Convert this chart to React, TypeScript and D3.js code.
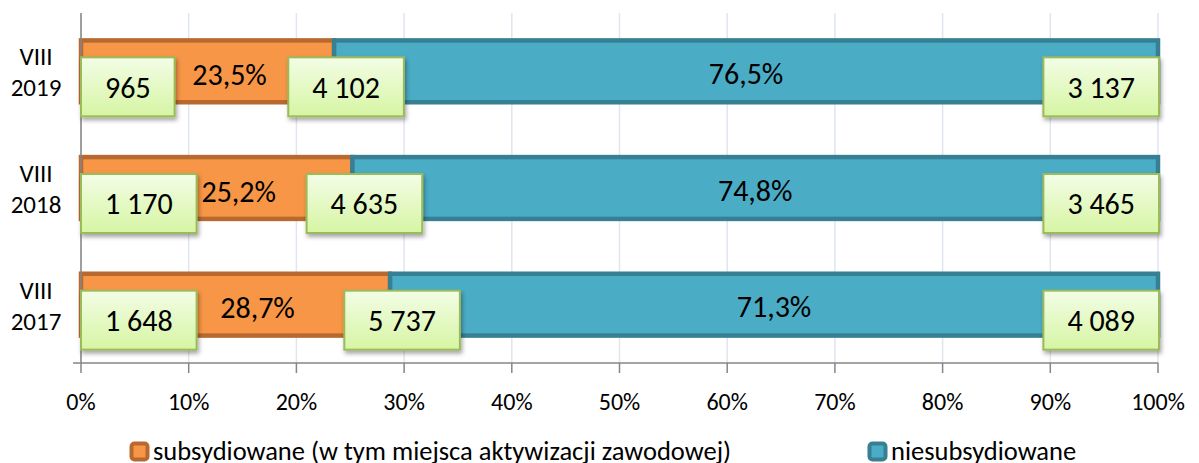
import React from "react"
import * as d3 from "d3"

const categories = ["VIII 2019", "VIII 2018", "VIII 2017"]
const subsidized = [965, 1170, 1648]
const unsubsidized = [3137, 3465, 4089]
const totals = [4102, 4635, 5737]
const subsidizedPct = [23.5, 25.2, 28.7]
const unsubsidizedPct = [76.5, 74.8, 71.3]
const xTicks = [0, 10, 20, 30, 40, 50, 60, 70, 80, 90, 100]
const legendLabels = ["subsydiowane (w tym miejsca aktywizacji zawodowej)", "niesubsydiowane"]

const W = 1199
const H = 463
const FONT = "Calibri, Carlito, Lato, sans-serif"
const LABEL_SIZE = 30

const plLocale = d3.formatLocale({ decimal: ",", thousands: " ", grouping: [3], currency: ["", ""] })
const fmtNum = plLocale.format(",")
const fmtPct = (v: number) => plLocale.format(".1f")(v) + "%"

let ctx: CanvasRenderingContext2D | null = null
function textWidth(s: string, size: number) {
    if (!ctx) ctx = document.createElement("canvas").getContext("2d")
    if (!ctx) return s.length * size * 0.55
    ctx.font = size + "px " + FONT
    return ctx.measureText(s).width
}

function ValueBox({ cx, cy, text, align }: { cx: number, cy: number, text: string, align: "left" | "center" | "right" }) {
    const w = textWidth(text, LABEL_SIZE) + 48
    const h = 59
    let x0 = cx - w / 2
    if (align === "left") x0 = cx
    if (align === "right") x0 = cx - w
    return (
        <g>
            <rect x={x0} y={cy - h / 2} width={w} height={h} fill="url(#boxGrad)"
                stroke="#9bbb59" strokeWidth={2} filter="url(#shadow)" />
            <text x={x0 + w / 2} y={cy} dy="0.36em" textAnchor="middle" fontSize={LABEL_SIZE}>{text}</text>
        </g>
    )
}

export default function App() {
    const x = d3.scaleLinear().domain([0, 100]).range([81, 1158])
    const y = d3.scaleBand().domain(categories).range([13, 363]).paddingInner(0.47).paddingOuter(0.235)
    const bw = y.bandwidth()
    const axisY = 363

    return (
        <svg width={W} height={H} style={{ position: "absolute", left: 0, top: 0 }}
            fontFamily={FONT} fill="#000">
            <defs>
                <linearGradient id="boxGrad" x1="0" y1="0" x2="0" y2="1">
                    <stop offset="0%" stopColor="#f3fde6" />
                    <stop offset="100%" stopColor="#d6f5a3" />
                </linearGradient>
                <filter id="shadow" x="-20%" y="-20%" width="140%" height="150%">
                    <feDropShadow dx="1.5" dy="3" stdDeviation="2" floodColor="#000" floodOpacity="0.35" />
                </filter>
            </defs>

            {/* gridlines */}
            {xTicks.map(t => (
                <line key={"g" + t} x1={x(t)} x2={x(t)} y1={13} y2={axisY} stroke="#dfe6f0" strokeWidth={1.5} />
            ))}

            {/* bars */}
            {categories.map((c, i) => {
                const y0 = y(c) as number
                return (
                    <g key={c}>
                        <rect x={x(0)} y={y0} width={x(subsidizedPct[i]) - x(0)} height={bw}
                            fill="#f79646" stroke="#b7692f" strokeWidth={4.5} />
                        <rect x={x(subsidizedPct[i])} y={y0} width={x(100) - x(subsidizedPct[i])} height={bw}
                            fill="#4bacc6" stroke="#377f92" strokeWidth={4.5} />
                    </g>
                )
            })}

            {/* axes */}
            <line x1={81} x2={81} y1={13} y2={axisY} stroke="#868686" strokeWidth={1.5} />
            <line x1={73} x2={x(100)} y1={axisY} y2={axisY} stroke="#868686" strokeWidth={1.5} />
            {xTicks.map(t => (
                <g key={"t" + t}>
                    <line x1={x(t)} x2={x(t)} y1={axisY} y2={axisY + 10} stroke="#868686" strokeWidth={1.5} />
                    <text x={x(t)} y={401} dy="0.36em" textAnchor="middle" fontSize={24}>{t + "%"}</text>
                </g>
            ))}

            {/* category labels */}
            {categories.map(c => {
                const yc = (y(c) as number) + bw / 2
                const [a, b] = c.split(" ")
                return (
                    <g key={"c" + c} fontSize={25}>
                        <text x={36} y={yc - 15} dy="0.36em" textAnchor="middle">{a}</text>
                        <text x={36} y={yc + 16} dy="0.36em" textAnchor="middle">{b}</text>
                    </g>
                )
            })}

            {/* percentage labels */}
            {categories.map((c, i) => {
                const yc = (y(c) as number) + bw / 2
                return (
                    <g key={"p" + c} fontSize={LABEL_SIZE}>
                        <text x={(x(0) + x(subsidizedPct[i])) / 2 + 22} y={yc + 3} dy="0.36em" textAnchor="middle">
                            {fmtPct(subsidizedPct[i])}
                        </text>
                        <text x={(x(subsidizedPct[i]) + x(100)) / 2} y={yc + 2} dy="0.36em" textAnchor="middle">
                            {fmtPct(unsubsidizedPct[i])}
                        </text>
                    </g>
                )
            })}

            {/* value boxes */}
            {categories.map((c, i) => {
                const yc = (y(c) as number) + bw / 2 + 15.5
                return (
                    <g key={"v" + c}>
                        <ValueBox cx={x(0)} cy={yc} text={fmtNum(subsidized[i])} align="left" />
                        <ValueBox cx={x(subsidizedPct[i]) + 12} cy={yc} text={fmtNum(totals[i])} align="center" />
                        <ValueBox cx={x(100) + 1} cy={yc} text={fmtNum(unsubsidized[i])} align="right" />
                    </g>
                )
            })}

            {/* legend */}
            {legendLabels.map((l, i) => {
                const lx = [130, 868][i]
                const fill = ["#f79646", "#4bacc6"][i]
                const stroke = ["#b7692f", "#377f92"][i]
                return (
                    <g key={"l" + i}>
                        <rect x={lx + 1.5} y={443.5} width={16} height={16} rx={3}
                            fill={fill} stroke={stroke} strokeWidth={4} />
                        <text x={lx + 23} y={460} fontSize={26.5}>{l}</text>
                    </g>
                )
            })}
        </svg>
    )
}
